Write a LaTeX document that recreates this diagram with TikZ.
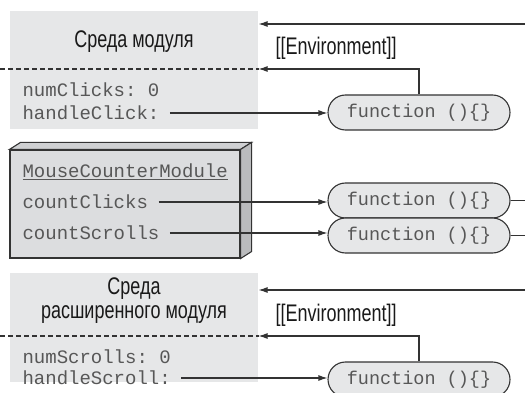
\documentclass[tikz,border=0pt]{standalone}
\usepackage{fontspec}
\setmainfont{Liberation Sans}
\setmonofont{Liberation Mono}
\newfontfamily\titlefont{Liberation Sans}[FakeStretch=0.75]
\usetikzlibrary{positioning,arrows.meta,shapes.misc}
\definecolor{envgray}{HTML}{E6E7E8}
\definecolor{modfront}{HTML}{DCDDDF}
\definecolor{modtop}{HTML}{CFD0D2}
\definecolor{modside}{HTML}{BABBBD}
\definecolor{linegray}{HTML}{333333}
\definecolor{codegray}{HTML}{575757}

\begin{document}
\begin{tikzpicture}[x=1pt,y=-1pt,line width=1.1pt,>={Latex[length=9pt,width=6pt]}]
	\tikzstyle{envbox}=[rectangle,fill=envgray,minimum width=248pt,inner sep=0pt]
	\tikzstyle{title}=[align=center,font=\titlefont\fontsize{24}{27}\selectfont,text=black!90]
	\tikzstyle{code}=[anchor=west,inner sep=0pt,font=\ttfamily\fontsize{19}{21}\selectfont,text=codegray]
	\tikzstyle{fn}=[rounded rectangle,draw=linegray,fill=envgray,minimum width=182pt,minimum height=35pt,inner sep=0pt,font=\ttfamily\fontsize{18.5}{20}\selectfont,text=codegray]
	\tikzstyle{link}=[draw=linegray]
	\tikzstyle{sep}=[draw=linegray,line width=1.2pt,dash pattern=on 5pt off 3pt]
	\useasboundingbox (0,0) rectangle (525,393);
	% module environment
		\node[envbox,minimum height=118pt] (env1) at (134,70) {};
		\node[title] (t1) at (134,42) {Среда модуля};
		\node[code] (nc) at (22,90) {numClicks: 0};
		\node[code] (hc) at (22,113) {handleClick:};
		\node[fn] (f1) at (419,112.5) {function ()\{\}};
		\coordinate (d1) at (0,69);
		\coordinate (in1) at (525,24);
		\node[title,anchor=west,inner sep=0pt] (e1) at (275,48) {[[Environment]]};
	% module object
		\node[rectangle,draw=linegray,fill=modfront,minimum width=230pt,minimum height=108pt,inner sep=0pt] (mod) at (125,204) {};
		\draw[link,fill=modtop] (mod.north west) -- ++(11,-7) -- ([shift={(11,-7)}]mod.north east) -- (mod.north east) -- cycle;
		\draw[link,fill=modside] (mod.north east) -- ++(11,-7) -- ([shift={(11,-7)}]mod.south east) -- (mod.south east) -- cycle;
		\node[code] (mcm) at (22,172) {\underline{MouseCounterModule}};
		\node[code] (cc) at (22,202) {countClicks};
		\node[code] (cs) at (22,233) {countScrolls};
		\node[fn] (f2) at (419,200.5) {function ()\{\}};
		\node[fn] (f3) at (419,235.5) {function ()\{\}};
		\coordinate (out) at (525,0);
	% extended module environment
		\node[envbox,minimum height=109pt] (env2) at (134,327.5) {};
		\node[title] (t2) at (134,301) {Среда\\[-3pt]расширенного модуля};
		\node[code] (ns) at (22,357) {numScrolls: 0};
		\node[code] (hs) at (22,378) {handleScroll:};
		\node[fn] (f4) at (419,379.5) {function ()\{\}};
		\coordinate (d2) at (0,336);
		\coordinate (in2) at (525,290);
		\node[title,anchor=west,inner sep=0pt] (e2) at (275,315) {[[Environment]]};
	% connectors
		\draw[sep] (d1) -- (d1 -| env1.east);
		\draw[sep] (d2) -- (d2 -| env2.east);
		\draw[link,->] (in1) -- (in1 -| env1.east);
		\draw[link,->] (f1.north) |- (d1 -| env1.east);
		\draw[link,->] ([xshift=10pt]hc.east) -- (hc.east -| f1.west);
		\draw[link,->] ([xshift=10pt]cc.east) -- (cc.east -| f2.west);
		\draw[link,->] ([xshift=10pt]cs.east) -- (cs.east -| f3.west);
		\draw[link] (f2.east) -- (f2.east -| out);
		\draw[link] (f3.east) -- (f3.east -| out);
		\draw[link,->] (in2) -- (in2 -| env2.east);
		\draw[link,->] (f4.north) |- (d2 -| env2.east);
		\draw[link,->] ([xshift=10pt]hs.east) -- (hs.east -| f4.west);
\end{tikzpicture}
\end{document}
